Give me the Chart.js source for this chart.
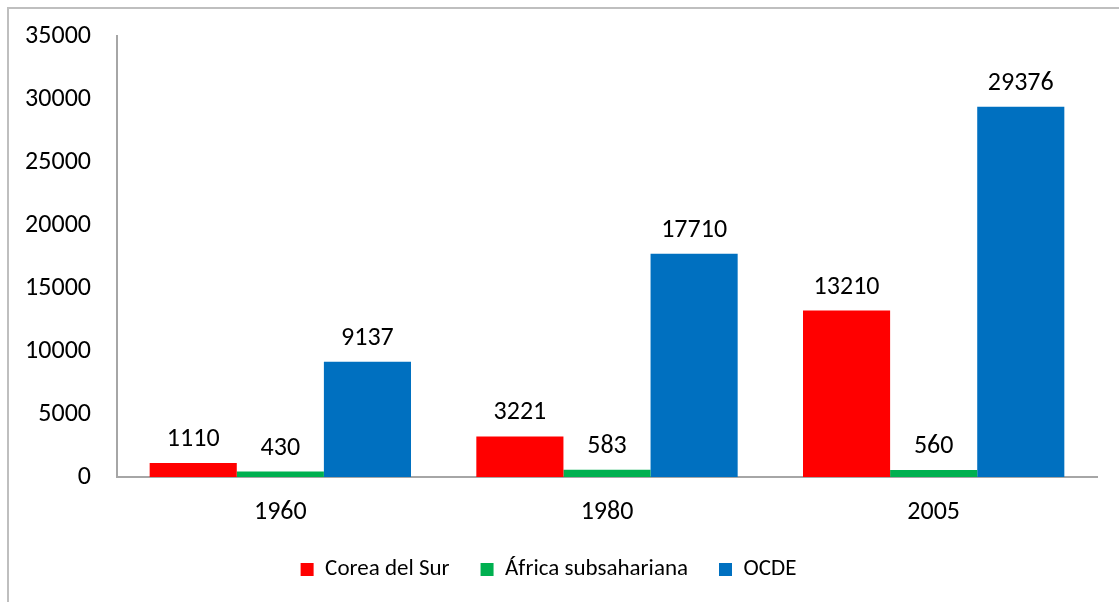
<!DOCTYPE html>
<html>
<head>
<meta charset="utf-8">
<script src="https://cdn.jsdelivr.net/npm/chart.js@4"></script>
<style>
    html, body { margin: 0; padding: 0; background: #fff; }
    #wrap { width: 1119px; height: 602px; }
</style>
</head>
<body>
<div id="wrap"><canvas id="ingresoChart" width="1119" height="602"></canvas></div>
<script>
// Datos
const anios = ['1960', '1980', '2005'];
const coreaDelSur = [1110, 3221, 13210];
const africaSubsahariana = [430, 583, 560];
const ocde = [9137, 17710, 29376];
const ticksY = [0, 5000, 10000, 15000, 20000, 25000, 30000, 35000];

const fuente = 'Carlito, Calibri, Lato, sans-serif';

// Marco gris alrededor del gráfico
const marco = {
    id: 'marco',
    beforeDraw(chart) {
        const ctx = chart.ctx;
        ctx.save();
        ctx.fillStyle = '#fff';
        ctx.fillRect(0, 0, chart.width, chart.height);
        ctx.strokeStyle = '#bfbfbf';
        ctx.lineWidth = 2;
        ctx.beginPath();
        ctx.moveTo(8, chart.height);
        ctx.lineTo(8, 8);
        ctx.lineTo(chart.width, 8);
        ctx.stroke();
        ctx.restore();
    }
};

// Etiquetas de valor sobre cada barra
const etiquetas = {
    id: 'etiquetas',
    afterDatasetsDraw(chart) {
        const ctx = chart.ctx;
        ctx.save();
        ctx.font = '26px ' + fuente;
        ctx.fillStyle = '#000';
        ctx.textAlign = 'center';
        ctx.textBaseline = 'alphabetic';
        chart.data.datasets.forEach((ds, i) => {
            chart.getDatasetMeta(i).data.forEach((bar, j) => {
                ctx.fillText(String(ds.data[j]), bar.x, bar.y - 17);
            });
        });
        ctx.restore();
    }
};

const ctx = document.getElementById('ingresoChart').getContext('2d');
new Chart(ctx, {
    type: 'bar',
    data: {
        labels: anios,
        datasets: [
            { label: 'Corea del Sur', data: coreaDelSur, backgroundColor: '#FF0000' },
            { label: 'África subsahariana', data: africaSubsahariana, backgroundColor: '#00B050' },
            { label: 'OCDE', data: ocde, backgroundColor: '#0070C0' }
        ]
    },
    options: {
        responsive: false,
        animation: false,
        categoryPercentage: 0.8,
        barPercentage: 1.0,
        layout: { padding: { top: 36, right: 22, bottom: 11, left: 0 } },
        scales: {
            y: {
                min: 0,
                max: 35000,
                afterBuildTicks: s => { s.ticks = ticksY.map(v => ({ value: v })); },
                afterFit: s => { s.width = 117; s.paddingTop = 0; s.paddingBottom = 0; },
                grid: { display: false, drawTicks: false },
                border: { display: true, color: '#a6a6a6', width: 2 },
                ticks: {
                    color: '#000',
                    padding: 26,
                    font: { family: fuente, size: 26 },
                    callback: v => String(v)
                }
            },
            x: {
                afterFit: s => { s.height = 50; },
                grid: { display: false, drawTicks: false },
                border: { display: true, color: '#a6a6a6', width: 2 },
                ticks: { color: '#000', padding: 20, font: { family: fuente, size: 26 } }
            }
        },
        plugins: {
            legend: {
                position: 'bottom',
                labels: {
                    color: '#000',
                    boxWidth: 13,
                    boxHeight: 13,
                    padding: 31,
                    font: { family: fuente, size: 23 }
                }
            },
            tooltip: { enabled: false }
        }
    },
    plugins: [marco, etiquetas]
});
</script>
</body>
</html>
